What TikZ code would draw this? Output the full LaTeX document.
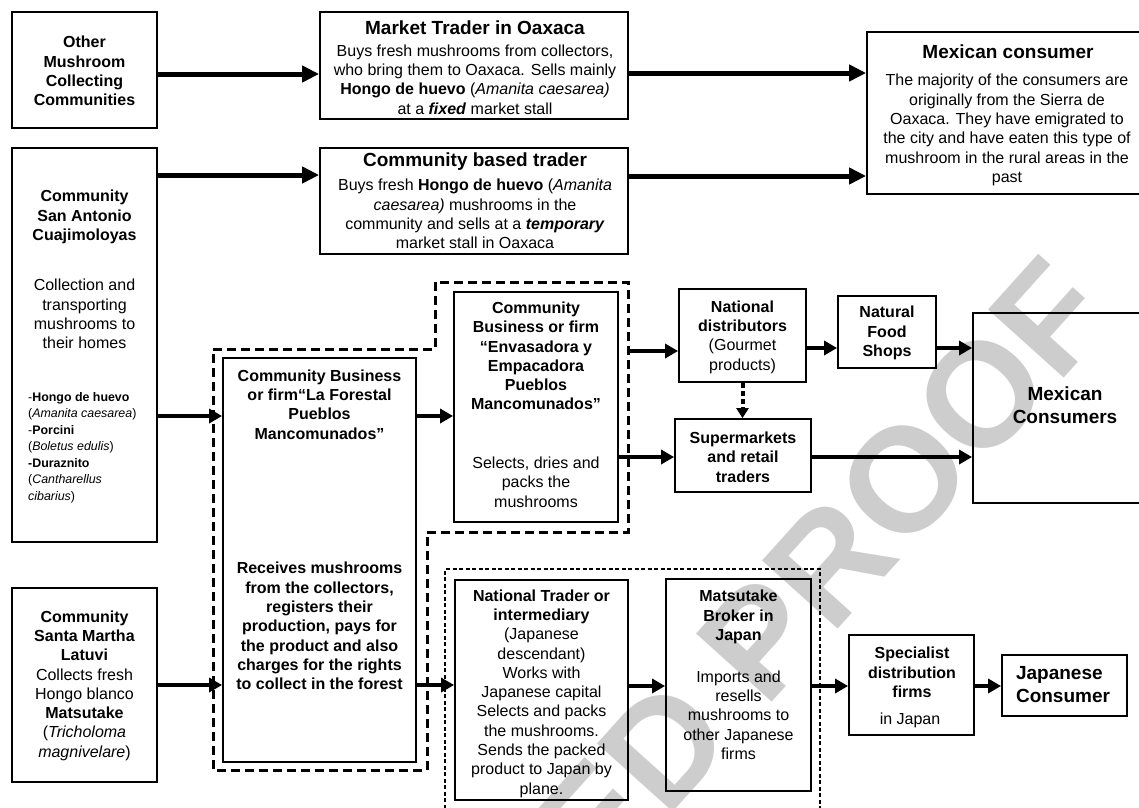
\documentclass[tikz,border=0pt]{standalone}
\usepackage{fontspec}
\setmainfont{Liberation Sans}
\usetikzlibrary{arrows.meta}
\definecolor{wmgray}{RGB}{205,205,205}
\newcommand\fs{\fontsize{16}{19.3}\selectfont}
\newcommand\ftl{\fontsize{19}{23}\selectfont\bfseries}
\newcommand\fli{\fontsize{12.4}{16.5}\selectfont}
\tikzset{
 box/.style={draw, line width=1.8pt, inner sep=0pt},
 txt/.style={inner sep=0pt, align=center, font=\fs},
 bigarr/.style={line width=5pt, -{Triangle[length=17pt,width=16pt]}},
 arr/.style={line width=4.5pt, -{Triangle[length=13pt,width=14pt]}},
 grp/.style={line width=3pt, dash pattern=on 9pt off 5pt},
 grpthin/.style={line width=1.2pt, dash pattern=on 4pt off 2.5pt},
 dotarr/.style={line width=4pt, dash pattern=on 5pt off 3pt, -{Triangle[length=10pt,width=12pt]}},
}
\begin{document}
\begin{tikzpicture}[x=1pt,y=-1pt]
\useasboundingbox (0,0) rectangle (1139,807);
% watermark
\begin{scope}
\clip (0,0) rectangle (1139,807);
\node[rotate=48, anchor=base east, inner sep=0pt, text=wmgray, font=\fontsize{148}{148}\selectfont\bfseries] (wm) at (1118,318) {CORRECTED PROOF};
\end{scope}
% boxes
\node[box, minimum width=145pt, minimum height=116pt] (OMC) at (84.5,70) {};
\node[box, minimum width=145pt, minimum height=394pt] (SAC) at (84.5,345) {};
\node[box, minimum width=145pt, minimum height=194pt] (SML) at (84.5,685) {};
\node[box, minimum width=308pt, minimum height=107pt] (MTO) at (474,65.5) {};
\node[box, minimum width=308pt, minimum height=106pt] (CBT) at (474,201) {};
\node[box, minimum width=283pt, minimum height=162pt] (MC1) at (1008.5,113) {};
\node[box, minimum width=193pt, minimum height=404pt] (LF) at (319.5,560) {};
\node[box, minimum width=164pt, minimum height=230pt] (ENV) at (536,407) {};
\node[box, minimum width=127pt, minimum height=93pt] (ND) at (742.5,335.5) {};
\node[box, minimum width=98pt, minimum height=72pt] (NFS) at (887,332) {};
\node[box, minimum width=184pt, minimum height=190pt] (MCS) at (1065,408) {};
\node[box, minimum width=136pt, minimum height=73pt] (SUP) at (743,455.5) {};
\node[box, minimum width=173pt, minimum height=220pt] (NTI) at (541.5,690) {};
\node[box, minimum width=145pt, minimum height=212pt] (MBJ) at (738.5,685) {};
\node[box, minimum width=125pt, minimum height=100pt] (SDF) at (911.5,685) {};
\node[box, minimum width=125pt, minimum height=61pt] (JC) at (1064.5,685.5) {};
% group outlines
\draw[grp] (213,349) -- (435,349) -- (435,282) -- (628,282) -- (628,532) -- (427,532) -- (427,770) -- (213,770) -- cycle;
\draw[grpthin] (445,815) -- (445,569) -- (820,569) -- (820,815);
% texts
\node[txt, font=\fs\bfseries] (tOMC) at (84.5,71) {Other\\Mushroom\\Collecting\\Communities};
\node[txt, font=\fs\bfseries] (tSAC1) at (84.5,217) {Community\\San Antonio\\Cuajimoloyas};
\node[txt] (tSAC2) at (84.5,314) {Collection and\\transporting\\mushrooms to\\their homes};
\node[txt, font=\fli, align=left, anchor=west] (tSAC3) at (28,447.5) {-\textbf{Hongo de huevo}\\(\textit{Amanita caesarea})\\-\textbf{Porcini}\\(\textit{Boletus edulis})\\\textbf{-Duraznito}\\(\textit{Cantharellus}\\\textit{cibarius})};
\node[txt, font=\ftl] (tMTO1) at (475,28) {Market Trader in Oaxaca};
\node[txt] (tMTO2) at (475,79.5) {Buys fresh mushrooms from collectors,\\who bring them to Oaxaca. Sells mainly\\\textbf{Hongo de huevo} (\textit{Amanita caesarea)}\\at a \textbf{\textit{fixed}} market stall};
\node[txt, font=\ftl] (tCBT1) at (475,162) {Community based trader};
\node[txt] (tCBT2) at (475,214) {Buys fresh \textbf{Hongo de huevo} (\textit{Amanita}\\\textit{caesarea)} mushrooms in the\\community and sells at a \textbf{\textit{temporary}}\\market stall in Oaxaca};
\node[txt, font=\ftl] (tMC11) at (1008,52) {Mexican consumer};
\node[txt] (tMC12) at (1007,130) {The majority of the consumers are\\originally from the Sierra de\\Oaxaca. They have emigrated to\\the city and have eaten this type of\\mushroom in the rural areas in the\\past};
\node[txt, font=\fs\bfseries] (tLF1) at (319.5,404.5) {Community Business\\or firm“La Forestal\\Pueblos\\Mancomunados”};
\node[txt, font=\fs\bfseries] (tLF2) at (319.5,626) {Receives mushrooms\\from the collectors,\\registers their\\production, pays for\\the product and also\\charges for the rights\\to collect in the forest};
\node[txt, font=\fs\bfseries] (tENV1) at (536,356) {Community\\Business or firm\\“Envasadora y\\Empacadora\\Pueblos\\Mancomunados”};
\node[txt] (tENV2) at (536,482) {Selects, dries and\\packs the\\mushrooms};
\node[txt] (tND) at (742.5,337) {\textbf{National}\\\textbf{distributors}\\(Gourmet\\products)};
\node[txt, font=\fs\bfseries] (tNFS) at (887,333) {Natural\\Food\\Shops};
\node[txt, font=\ftl] (tMCS) at (1065,405) {Mexican\\Consumers};
\node[txt, font=\fs\bfseries] (tSUP) at (743,457) {Supermarkets\\and retail\\traders};
\node[txt] (tSML) at (84.5,685.5) {\textbf{Community}\\\textbf{Santa Martha}\\\textbf{Latuvi}\\Collects fresh\\Hongo blanco\\\textbf{Matsutake}\\(\textit{Tricholoma}\\\textit{magnivelare})};
\node[txt] (tNTI) at (541.5,693.5) {\textbf{National Trader or}\\\textbf{intermediary}\\(Japanese\\descendant)\\Works with\\Japanese capital\\Selects and packs\\the mushrooms.\\Sends the packed\\product to Japan by\\plane.};
\node[txt, font=\fs\bfseries] (tMBJ1) at (738.5,617) {Matsutake\\Broker in\\Japan};
\node[txt] (tMBJ2) at (738.5,715) {Imports and\\resells\\mushrooms to\\other Japanese\\firms};
\node[txt, font=\fs\bfseries] (tSDF1) at (912,672.5) {Specialist\\distribution\\firms};
\node[txt] (tSDF2) at (910,720) {in Japan};
\node[txt, font=\ftl, align=left] (tJC) at (1063,685) {Japanese\\Consumer};
% connectors
\draw[bigarr] (OMC.east |- 0,74) -- (MTO.west |- 0,74);
\draw[bigarr] (MTO.east |- 0,73) -- (MC1.west |- 0,73);
\draw[bigarr] (SAC.east |- 0,175) -- (CBT.west |- 0,175);
\draw[bigarr] (CBT.east |- 0,176) -- (MC1.west |- 0,176);
\draw[arr] (SAC.east |- 0,416) -- (LF.west |- 0,416);
\draw[arr] (LF.east |- 0,416) -- (ENV.west |- 0,416);
\coordinate (envout) at (628,351);
\draw[arr] (envout) -- (ND.west |- envout);
\draw[arr] (ENV.east |- 0,457) -- (SUP.west |- 0,457);
\draw[arr] (ND.east |- 0,348) -- (NFS.west |- 0,348);
\draw[arr] (NFS.east |- 0,348) -- (MCS.west |- 0,348);
\draw[arr] (SUP.east |- 0,457) -- (MCS.west |- 0,457);
\draw[dotarr] (ND.south) -- (ND.south |- SUP.north);
\draw[arr] (SML.east |- 0,685) -- (LF.west |- 0,685);
\draw[arr] (LF.east |- 0,685) -- (NTI.west |- 0,685);
\draw[arr] (NTI.east |- 0,686) -- (MBJ.west |- 0,686);
\draw[arr] (MBJ.east |- 0,686) -- (SDF.west |- 0,686);
\draw[arr] (SDF.east |- 0,686) -- (JC.west |- 0,686);
\end{tikzpicture}
\end{document}
